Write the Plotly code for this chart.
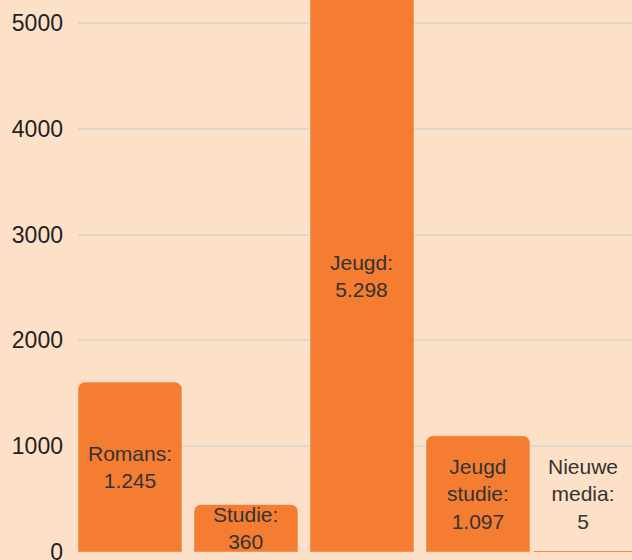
import plotly.graph_objects as go

categories = ["Romans", "Studie", "Jeugd", "Jeugd studie", "Nieuwe media"]
bar_values = [1606, 449, 5298, 1099, 5]
label_names = ["Romans:", "Studie:", "Jeugd:", "Jeugd<br>studie:", "Nieuwe<br>media:"]
label_values = ["1.245", "360", "5.298", "1.097", "5"]
y_ticks = [0, 1000, 2000, 3000, 4000, 5000]
y_max = 5218
x_range = [-0.448, 4.328]

texts = [f"{n}<br>{v}" for n, v in zip(label_names, label_values)]
bar_w = 0.8966
offsets = [-bar_w / 2] * (len(categories) - 1) + [-0.517]
line_colors = ["rgba(255,255,255,0.35)" if v > 100 else "rgba(245,125,49,0.6)" for v in bar_values]

fig = go.Figure(
    go.Bar(
        x=list(range(len(categories))),
        y=bar_values,
        width=bar_w,
        offset=offsets,
        hovertext=texts,
        cliponaxis=True,
        marker=dict(color="#F57D31", line=dict(color=line_colors, width=1)),
    )
)

label_font = dict(family="Liberation Sans, Arial", size=21, color="#333333")
for i, (v, t) in enumerate(zip(bar_values, texts)):
    left = i + offsets[i]
    right = min(left + bar_w, x_range[1])
    xc = (left + right) / 2
    if v > 100:
        fig.add_annotation(x=xc, y=min(v, y_max) / 2, text=t, showarrow=False,
                           yanchor="middle", font=label_font)
    else:
        fig.add_annotation(x=xc, y=v, text=t, showarrow=False,
                           yanchor="bottom", yshift=16, font=label_font)

fig.update_layout(
    width=632,
    height=560,
    margin=dict(l=78, r=0, t=0, b=8, autoexpand=False),
    paper_bgcolor="#FDE0C8",
    plot_bgcolor="#FDE0C8",
    barcornerradius=7,
    showlegend=False,
    font=dict(family="Liberation Sans, Arial", color="#222222"),
)
fig.update_xaxes(
    range=x_range,
    showticklabels=False,
    showgrid=False,
    zeroline=False,
    showline=False,
    automargin=False,
)
fig.update_yaxes(
    range=[0, y_max],
    tickvals=y_ticks,
    ticktext=[str(t) for t in y_ticks],
    tickfont=dict(family="Liberation Sans, Arial", size=23, color="#222222"),
    ticklabelstandoff=14,
    ticklabeloverflow="allow",
    automargin=False,
    showgrid=True,
    gridcolor="#E2D6CC",
    gridwidth=1.5,
    zeroline=False,
    showline=False,
)

fig.write_html(
    "out.html",
    config={"displayModeBar": False},
    post_script="document.body.style.margin='0';document.body.style.overflow='hidden';",
)
